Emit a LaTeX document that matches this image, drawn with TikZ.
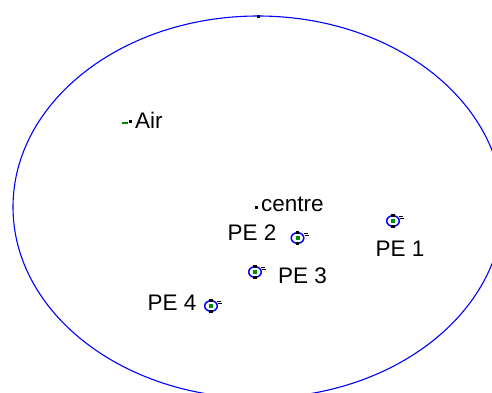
\documentclass[tikz,border=0pt]{standalone}
\usepackage{fontspec}
\usetikzlibrary{shapes.geometric}
\setmainfont{Liberation Sans}
\begin{document}
\begin{tikzpicture}[x=1pt,y=-1pt,
  lbl/.style={font=\fontsize{22.5}{24}\selectfont, inner sep=0pt, text=black},
  dotsq/.style={fill=black, minimum size=3pt, inner sep=0pt, draw=none},
  pemark/.pic={
    \draw[blue, line width=1.5pt] (0,0) ellipse [x radius=6.3, y radius=5.3];
    \fill[green!55!black] (-2,-1.6) rectangle (2,1.6);
    \fill[black] (-1.8,-7) rectangle (1.8,-4.2);
    \fill[black] (-1.8,4.2) rectangle (1.8,7);
    \draw[black, line width=1pt] (6,-4.5) -- (10,-4.5) (7,-2.3) -- (11,-2.3);
  }]
\useasboundingbox (0,0) rectangle (492,392);
\begin{scope}
\clip (0,0) rectangle (492,392);
\node[draw=blue, line width=1.1pt, ellipse, minimum width=490pt, minimum height=382pt, inner sep=0pt] (field) at (258,207) {};
\end{scope}
\node[dotsq] (top) at (258,16) {};
% Air
\coordinate (airmk) at (126,123);
\draw[green!55!black, line width=1.8pt] (122,123) -- (128,123);
\node[dotsq, minimum size=2.5pt] (airdot) at (130.5,121.5) {};
\node[lbl, anchor=west] (air) at (135,120) {Air};
% centre
\node[dotsq, minimum size=3pt] (centredot) at (256,207) {};
\node[lbl, anchor=west] (centre) at (261,204) {centre};
% PE markers
\pic at (393,221) {pemark};
\coordinate (pe1m) at (393,221);
\node[lbl] (pe1) at (400,249) {PE 1};
\pic at (297.5,238) {pemark};
\coordinate (pe2m) at (297.5,238);
\node[lbl] (pe2) at (252,233) {PE 2};
\pic at (255,272) {pemark};
\coordinate (pe3m) at (255,272);
\node[lbl, anchor=west] (pe3) at (278,276) {PE 3};
\pic at (211,306) {pemark};
\coordinate (pe4m) at (211,306);
\node[lbl] (pe4) at (172,303) {PE 4};
\end{tikzpicture}
\end{document}
